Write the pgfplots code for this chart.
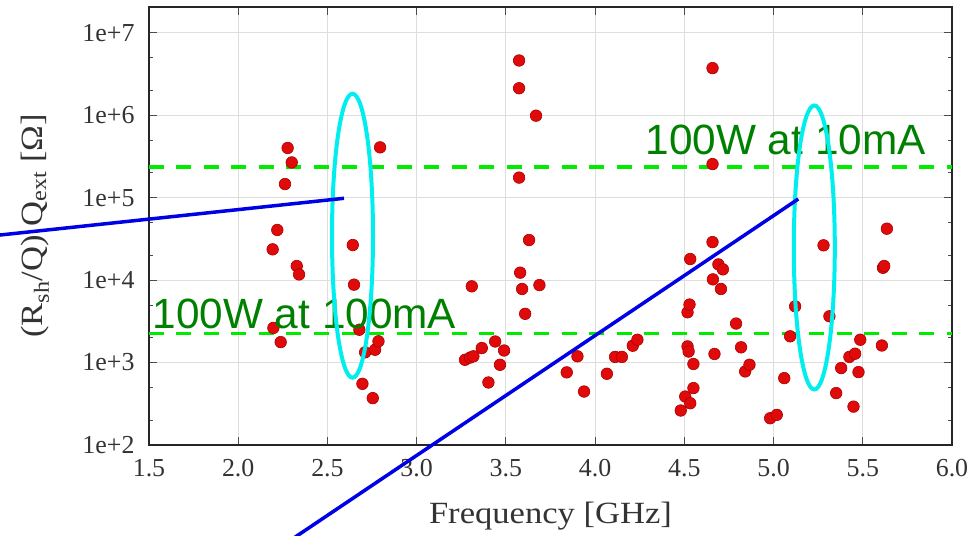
\documentclass[border=0pt]{standalone}
\usepackage{fontspec}
\setmainfont{Liberation Serif}
\newfontfamily\sansgreen{Liberation Sans}
\newfontfamily\labelfont[FakeStretch=1.12]{Liberation Serif}
\usepackage{pgfplots}
\usepackage{pgfplotstable}
\pgfplotsset{compat=1.18}
\definecolor{dotred}{RGB}{225,10,10}
\definecolor{dotedge}{RGB}{170,0,0}
\definecolor{refgreen}{RGB}{0,235,0}
\definecolor{txtgreen}{RGB}{0,128,0}
\definecolor{annblue}{RGB}{0,0,230}
\definecolor{anncyan}{RGB}{0,238,238}

\pgfplotstableread{
f v
2.193 2.36e4
2.197 2.63e3
2.219 4.05e4
2.238 1.77e3
2.262 1.46e5
2.277 4.0e5
2.300 2.67e5
2.328 1.48e4
2.341 1.17e4
2.642 2.66e4
2.649 8.8e3
2.679 2.5e3
2.696 552
2.711 1.33e3
2.754 370
2.767 1.43e3
2.786 1.81e3
2.795 4.07e5
3.271 1.08e3
3.300 1.15e3
3.309 8.4e3
3.318 1.19e3
3.365 1.5e3
3.402 573
3.440 1.8e3
3.467 940
3.490 1.4e3
3.574 4.6e6
3.574 2.12e6
3.574 1.75e5
3.580 1.23e4
3.591 7.8e3
3.608 3.9e3
3.630 3.06e4
3.669 9.86e5
3.688 8.7e3
3.841 760
3.901 1.19e3
3.938 445
4.066 731
4.112 1.17e3
4.150 1.17e3
4.211 1.6e3
4.237 1.89e3
4.480 262
4.505 387
4.518 4.07e3
4.518 1.57e3
4.524 1.36e3
4.529 5.05e3
4.533 1.8e4
4.533 321
4.551 960
4.551 490
4.658 3.72e6
4.658 2.55e5
4.658 2.89e4
4.660 1.02e4
4.669 1.27e3
4.691 1.55e4
4.705 7.8e3
4.716 1.35e4
4.790 2.97e3
4.818 1.53e3
4.841 780
4.865 940
4.981 211
5.018 232
5.060 647
5.093 2.08e3
5.121 4.8e3
5.280 2.64e4
5.313 3.64e3
5.351 426
5.379 857
5.425 1.17e3
5.448 292
5.457 1.28e3
5.476 766
5.486 1.89e3
5.607 1.61e3
5.613 1.41e4
5.620 1.48e4
5.635 4.2e4
}\data

\begin{document}
\begin{tikzpicture}
\useasboundingbox (-149bp,-91bp) rectangle (829bp,445bp);
\begin{axis}[
  at={(0,0)}, anchor=south west,
  scale only axis, width=803bp, height=438bp,
  xmin=1.5, xmax=6.0, ymode=log, ymin=1e2, ymax=2.05e7,
  xtick={1.5,2,2.5,3,3.5,4,4.5,5,5.5,6},
  xticklabels={1.5,2.0,2.5,3.0,3.5,4.0,4.5,5.0,5.5,6.0},
  ytick={1e2,1e3,1e4,1e5,1e6,1e7},
  yticklabels={1e+2,1e+3,1e+4,1e+5,1e+6,1e+7},
  minor ytick={2e2,5e2,2e3,5e3,2e4,5e4,2e5,5e5,2e6,5e6,2e7},
  grid=major, major grid style={black!13, line width=0.9bp},
  tick align=inside,
  major tick length=8bp, minor tick length=4bp,
  every tick/.style={black!70, line width=0.8bp},
  axis line style={black!85, line width=1.2bp},
  tick label style={font=\fontsize{26}{30}\selectfont, text=black!80},
  xticklabel style={yshift=-11bp},
  yticklabel style={xshift=-11bp},
  xlabel={Frequency [GHz]},
  ylabel={(R\textsubscript{sh}/Q) Q\textsubscript{ext} [Ω]},
  label style={font=\labelfont\fontsize{31}{36}\selectfont, text=black!80},
  xlabel style={at={(axis description cs:0.5,0)}, anchor=base, yshift=-79bp},
  ylabel style={at={(axis description cs:-0.142,0.5)}, anchor=center},
]
\addplot[refgreen, line width=3.5bp, dash pattern=on 15bp off 12.5bp] coordinates {(1.5,2.36e5) (6.0,2.36e5)};
\addplot[refgreen, line width=3.5bp, dash pattern=on 15bp off 12.5bp] coordinates {(1.5,2.24e3) (6.0,2.24e3)};
\addplot[only marks, mark=*, mark size=5.8bp, mark options={fill=dotred, draw=dotedge, line width=0.6bp}] table[x=f, y=v]{\data};
\end{axis}
\node[anchor=base west, inner sep=0, text=txtgreen, font=\sansgreen\fontsize{42.5}{50}\selectfont] at (496.4bp,290bp) {100W at 10mA};
\node[anchor=base west, inner sep=0, text=txtgreen, font=\sansgreen\fontsize{42.5}{50}\selectfont] at (3.4bp,116.7bp) {100W at 100mA};
\draw[anncyan, line width=4bp] (203.5bp,209.3bp) ellipse [x radius=20.5bp, y radius=142bp];
\draw[anncyan, line width=4bp] (665.3bp,197.5bp) ellipse [x radius=20.5bp, y radius=142bp];
\draw[annblue, line width=3.5bp] (-160bp,208.8bp) -- (195bp,246.7bp);
\draw[annblue, line width=3.5bp] (119.5bp,-110bp) -- (649.3bp,246bp);
\end{tikzpicture}
\end{document}
